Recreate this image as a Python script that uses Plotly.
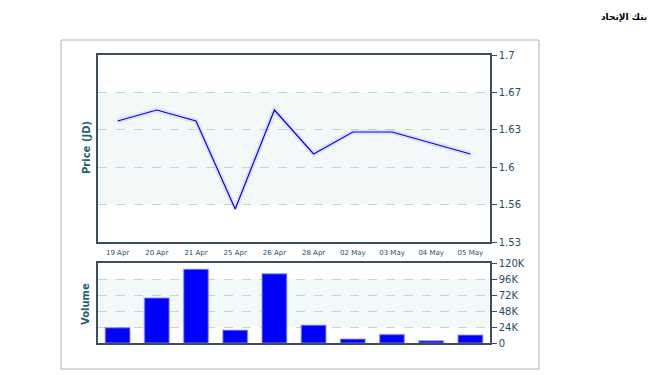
import plotly.graph_objects as go

dates = ["19 Apr", "20 Apr", "21 Apr", "25 Apr", "26 Apr", "28 Apr", "02 May", "03 May", "04 May", "05 May"]
price = [1.64, 1.65, 1.64, 1.56, 1.65, 1.61, 1.63, 1.63, 1.62, 1.61]
volume = [23000, 67500, 110500, 19300, 103700, 26700, 5900, 12700, 3400, 11900]

price_ticks = [1.53, 1.564, 1.598, 1.632, 1.666, 1.7]
price_labels = ["1.53", "1.56", "1.6", "1.63", "1.67", "1.7"]
vol_ticks = [0, 24000, 48000, 72000, 96000, 120000]
vol_labels = ["0", "24K", "48K", "72K", "96K", "120K"]

title_text = "بنك الإتحاد"

W, H = 665, 375
TXT = "#1f4f5f"
AX = "#3d4f58"
GRID = "#b9d9dc"
BAND = "#f3f8f9"
FONT = "DejaVu Sans"

fig = go.Figure()
# shadow of price line
fig.add_trace(go.Scatter(x=dates, y=price, mode="lines", xaxis="x", yaxis="y",
                         line=dict(color="rgba(90,90,200,0.12)", width=5),
                         hoverinfo="skip", showlegend=False))
fig.add_trace(go.Scatter(x=dates, y=price, mode="lines", xaxis="x", yaxis="y",
                         line=dict(color="#0000ff", width=1.2), showlegend=False))
fig.add_trace(go.Bar(x=dates, y=volume, xaxis="x2", yaxis="y2", width=0.63,
                     marker=dict(color="#0000ff", line=dict(color="rgba(140,140,240,0.55)", width=1.5)),
                     showlegend=False))

def px(v):
    return v / W

def py(v):
    return 1 - v / H

common_x = dict(type="category", showgrid=False, zeroline=False, showline=True, mirror=True,
                linecolor=AX, linewidth=1.5, ticks="", range=[-0.5, len(dates) - 0.5],
                domain=[px(98), px(490)], automargin=False)

fig.update_layout(
    width=W, height=H, autosize=False, margin=dict(l=0, r=0, t=0, b=0, pad=0),
    paper_bgcolor="white", plot_bgcolor="white",
    font=dict(family=FONT, color=TXT, size=10),
    bargap=0.37,
    xaxis=dict(**common_x, anchor="y", showticklabels=True, ticklabelstandoff=3,
               tickfont=dict(size=7, color=TXT, family=FONT)),
    yaxis=dict(domain=[py(242), py(55)], range=[1.53, 1.7], side="right",
               tickvals=price_ticks, ticktext=price_labels, ticks="outside", ticklen=5,
               tickcolor=AX, showline=True, mirror=True, linecolor=AX, linewidth=1.5,
               showgrid=True, gridcolor=GRID, griddash="dash", gridwidth=1, zeroline=False,
               tickfont=dict(size=10, color=TXT, family=FONT), anchor="x", automargin=False),
    xaxis2=dict(**common_x, anchor="y2", showticklabels=False),
    yaxis2=dict(domain=[py(343), py(263)], range=[0, 120000], side="right",
                tickvals=vol_ticks, ticktext=vol_labels, ticks="outside", ticklen=5,
                tickcolor=AX, showline=True, mirror=True, linecolor=AX, linewidth=1.5,
                showgrid=True, gridcolor=GRID, griddash="dash", gridwidth=1, zeroline=False,
                tickfont=dict(size=10, color=TXT, family=FONT), anchor="x2", automargin=False),
)

shapes = [
    dict(type="rect", xref="paper", yref="paper", x0=px(61), x1=px(539), y0=py(369), y1=py(40),
         line=dict(color="#aab2b5", width=1), fillcolor="rgba(0,0,0,0)", layer="below"),
    dict(type="rect", xref="x domain", yref="y", x0=0, x1=1, y0=price_ticks[1], y1=price_ticks[4],
         line=dict(width=0), fillcolor=BAND, layer="below"),
    dict(type="rect", xref="x2 domain", yref="y2", x0=0, x1=1, y0=vol_ticks[1], y1=vol_ticks[4],
         line=dict(width=0), fillcolor=BAND, layer="below"),
]
fig.update_layout(shapes=shapes)

fig.add_annotation(text="<b>Price (JD)</b>", xref="paper", yref="paper", x=px(86), y=py(148),
                   textangle=-90, showarrow=False, font=dict(size=10, color="#1f5f6f", family=FONT),
                   xanchor="center", yanchor="middle")
fig.add_annotation(text="<b>Volume</b>", xref="paper", yref="paper", x=px(85), y=py(304),
                   textangle=-90, showarrow=False, font=dict(size=10, color="#1f5f6f", family=FONT),
                   xanchor="center", yanchor="middle")
fig.add_annotation(text="<b>" + title_text + "</b>", xref="paper", yref="paper", x=px(649), y=py(16.5),
                   showarrow=False, font=dict(size=9, color="#000000", family=FONT),
                   xanchor="right", yanchor="middle")

fig.write_html("out.html", config={"responsive": False, "displayModeBar": False},
               post_script="document.body.style.margin='0';document.body.style.overflow='hidden';")
